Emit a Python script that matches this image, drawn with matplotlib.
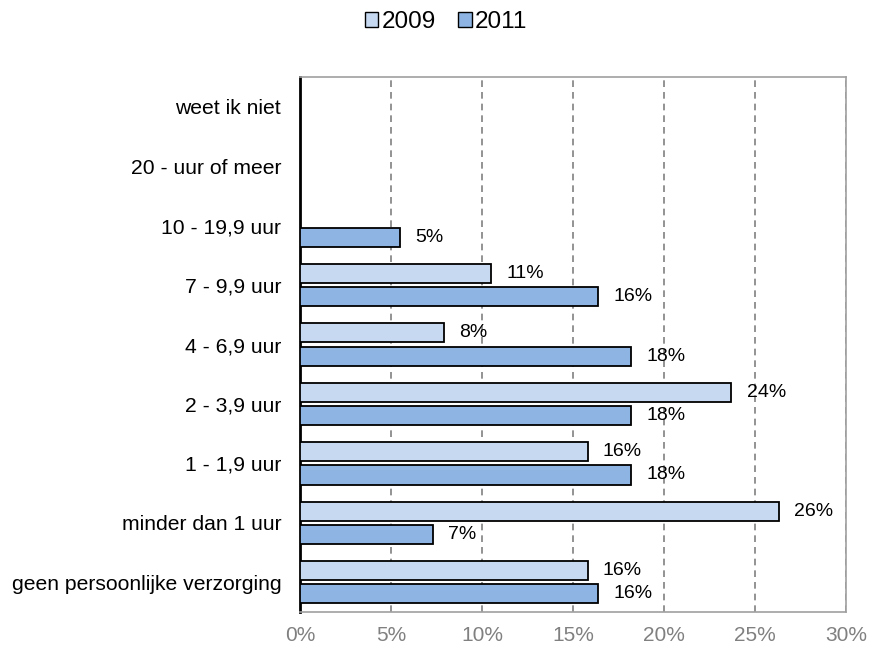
import matplotlib
matplotlib.use("Agg")
import matplotlib.pyplot as plt
import numpy as np
from matplotlib.patches import Patch

plt.rcParams['font.family'] = ['Liberation Sans', 'DejaVu Sans']

categories = ["geen persoonlijke verzorging", "minder dan 1 uur", "1 - 1,9 uur",
              "2 - 3,9 uur", "4 - 6,9 uur", "7 - 9,9 uur", "10 - 19,9 uur",
              "20 - uur of meer", "weet ik niet"]
v2009 = [15.8, 26.3, 15.8, 23.7, 7.9, 10.5, None, None, None]
v2011 = [16.4, 7.3, 18.2, 18.2, 18.2, 16.4, 5.5, None, None]
lab2009 = ["16%", "26%", "16%", "24%", "8%", "11%", "", "", ""]
lab2011 = ["16%", "7%", "18%", "18%", "18%", "16%", "5%", "", ""]
xticks = [0, 5, 10, 15, 20, 25, 30]

fig = plt.figure(figsize=(8.7, 6.49), dpi=100)
ax = fig.add_axes([0.3448, 0.057, 0.6276, 0.8243])

y = np.arange(len(categories))
h = 0.32
off = 0.195
c09 = "#C6D9F1"
c11 = "#8DB4E2"

for i in range(len(categories)):
    if v2009[i] is not None:
        ax.barh(y[i] + off, v2009[i], height=h, color=c09, edgecolor="black", linewidth=1.3, zorder=3)
        ax.annotate(lab2009[i], (v2009[i], y[i] + off), xytext=(11, 0), textcoords="offset points",
                    va="center", ha="left", fontsize=14)
    if v2011[i] is not None:
        ax.barh(y[i] - off, v2011[i], height=h, color=c11, edgecolor="black", linewidth=1.3, zorder=3)
        ax.annotate(lab2011[i], (v2011[i], y[i] - off), xytext=(11, 0), textcoords="offset points",
                    va="center", ha="left", fontsize=14)

ax.set_xlim(0, 30)
ax.set_ylim(-0.5, len(categories) - 0.5)
ax.set_yticks(y)
ax.set_yticklabels(categories, fontsize=15.2)
ax.set_xticks(xticks)
ax.set_xticklabels([f"{t}%" for t in xticks], fontsize=15, color="#808080")
ax.tick_params(axis="x", length=0, pad=10)
ax.tick_params(axis="y", length=0, pad=13.5)
ax.xaxis.grid(True, linestyle=(0, (4, 3)), color="#808080", linewidth=1.2, zorder=0)
for s in ["top", "right", "bottom"]:
    ax.spines[s].set_color("#A0A0A0")
    ax.spines[s].set_linewidth(1.2)
ax.spines["left"].set_color("black")
ax.spines["left"].set_linewidth(2)

handles = [Patch(facecolor=c09, edgecolor="black", label="2009"),
           Patch(facecolor=c11, edgecolor="black", label="2011")]
fig.legend(handles=handles, loc="center", bbox_to_anchor=(0.513, 0.966), ncol=2, frameon=False,
           fontsize=17.5, handlelength=0.55, handleheight=0.55, handletextpad=0.15, columnspacing=0.9)

fig.savefig("out.png", dpi=100)
